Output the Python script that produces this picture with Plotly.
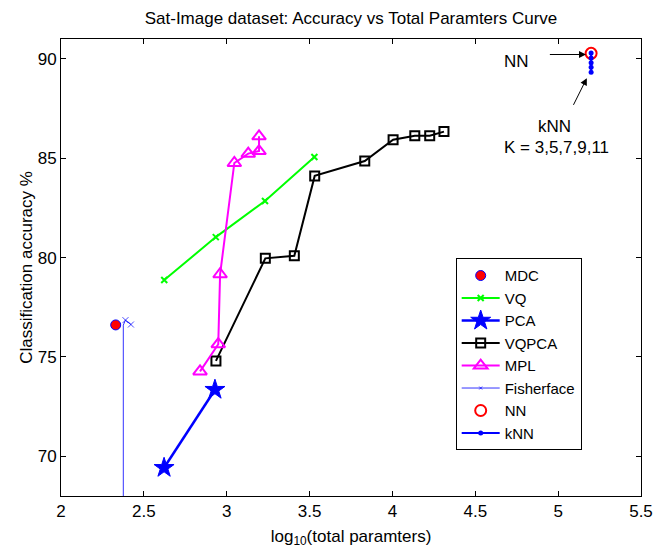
import plotly.graph_objects as go

# ---- data ----
mdc_x = [2.330]
mdc_y = [76.61]

vq_x = [2.623, 2.934, 3.231, 3.529]
vq_y = [78.87, 81.03, 82.85, 85.06]

pca_x = [2.622, 2.929]
pca_y = [69.42, 73.35]

vqpca_x = [2.935, 3.233, 3.408, 3.531, 3.833, 4.004, 4.135, 4.225, 4.311]
vqpca_y = [74.80, 79.96, 80.09, 84.11, 84.86, 85.93, 86.13, 86.13, 86.34]

mpl_x = [2.839, 2.949, 2.960, 3.046, 3.130, 3.195, 3.195]
mpl_y = [74.27, 75.64, 79.16, 84.76, 85.23, 85.36, 86.10]

fisher_x = [2.376, 2.376, 2.389, 2.422]
fisher_y = [20.0, 76.60, 76.85, 76.63]
fisher_msize = [0, 0, 6, 6]

nn_x = [5.199]
nn_y = [90.28]

knn_k = [3, 5, 7, 9, 11]
knn_x = [5.199, 5.199, 5.199, 5.199, 5.199]
knn_y = [90.30, 90.05, 89.80, 89.58, 89.33]

x_ticks = [2, 2.5, 3, 3.5, 4, 4.5, 5, 5.5]
y_ticks = [70, 75, 80, 85, 90]

FONT = "Liberation Sans, Arial, Helvetica, sans-serif"
FS = 17
LFS = 15

fig = go.Figure()

fig.add_trace(go.Scatter(x=mdc_x, y=mdc_y, mode="markers", name="MDC",
                         marker=dict(symbol="circle", size=10, color="#FF0000",
                                     line=dict(color="#0000FF", width=1))))
fig.add_trace(go.Scatter(x=vq_x, y=vq_y, mode="lines+markers", name="VQ",
                         line=dict(color="#00FF00", width=2),
                         marker=dict(symbol="x-thin", size=6,
                                     line=dict(color="#00FF00", width=2))))
fig.add_trace(go.Scatter(x=pca_x, y=pca_y, mode="lines+markers", name="PCA",
                         line=dict(color="#0000FF", width=2.5),
                         marker=dict(symbol="star", size=15, color="#0000FF",
                                     line=dict(color="#0000FF", width=1))))
fig.add_trace(go.Scatter(x=vqpca_x, y=vqpca_y, mode="lines+markers", name="VQPCA",
                         line=dict(color="#000000", width=2),
                         marker=dict(symbol="square-open", size=9, color="#000000",
                                     line=dict(color="#000000", width=2))))
fig.add_trace(go.Scatter(x=mpl_x, y=mpl_y, mode="lines+markers", name="MPL",
                         line=dict(color="#FF00FF", width=2),
                         marker=dict(symbol="triangle-up-open", size=12, color="#FF00FF",
                                     line=dict(color="#FF00FF", width=2))))
fig.add_trace(go.Scatter(x=fisher_x, y=fisher_y, mode="lines+markers", name="Fisherface",
                         line=dict(color="#3333FF", width=1),
                         marker=dict(symbol="x-thin-open", size=fisher_msize, color="#0000FF",
                                     line=dict(color="#0000FF", width=1))))
fig.add_trace(go.Scatter(x=nn_x, y=nn_y, mode="markers", name="NN",
                         marker=dict(symbol="circle-open", size=11, color="#FF0000",
                                     line=dict(color="#FF0000", width=2))))
fig.add_trace(go.Scatter(x=knn_x, y=knn_y, mode="lines+markers", name="kNN",
                         text=[f"K={k}" for k in knn_k],
                         line=dict(color="#0000FF", width=2),
                         marker=dict(symbol="circle", size=5, color="#0000FF")))

# arrows
fig.add_annotation(x=5.168, y=90.22, ax=4.941, ay=90.22, axref="x", ayref="y",
                   xref="x", yref="y", text="", showarrow=True,
                   arrowhead=2, arrowsize=1.4, arrowwidth=1, arrowcolor="black")
fig.add_annotation(x=5.173, y=89.03, ax=5.088, ay=87.61, axref="x", ayref="y",
                   xref="x", yref="y", text="", showarrow=True,
                   arrowhead=2, arrowsize=1.4, arrowwidth=1, arrowcolor="black")
# labels
fig.add_annotation(x=4.746, y=89.88, text="NN", showarrow=False,
                   font=dict(family=FONT, size=FS, color="black"))
fig.add_annotation(x=4.975, y=86.6, text="kNN", showarrow=False,
                   font=dict(family=FONT, size=FS, color="black"))
fig.add_annotation(x=4.993, y=85.55, text="K = 3,5,7,9,11", showarrow=False,
                   font=dict(family=FONT, size=FS, color="black"))

axis_common = dict(showgrid=False, zeroline=False, showline=True, linecolor="black",
                   linewidth=1, mirror="ticks", ticks="inside", ticklen=5,
                   automargin=False, ticklabeloverflow="allow",
                   tickcolor="black", tickfont=dict(family=FONT, size=FS, color="black"))

fig.update_layout(
    width=654, height=552,
    margin=dict(l=61, r=13, t=39, b=56, autoexpand=False),
    plot_bgcolor="white", paper_bgcolor="white",
    font=dict(family=FONT, size=FS, color="black"),
    title=dict(text="Sat-Image dataset: Accuracy vs Total Paramters Curve",
               x=351 / 654, xanchor="center", y=1 - 18 / 552, yanchor="middle",
               font=dict(family=FONT, size=FS, color="black")),
    xaxis=dict(range=[2, 5.5], tickvals=x_ticks, ticktext=[str(t) for t in x_ticks],
               title=dict(text="log<sub>10</sub>(total paramters)", standoff=9,
                          font=dict(family=FONT, size=FS)),
               **axis_common),
    yaxis=dict(range=[68, 91], tickvals=y_ticks, ticktext=[str(t) for t in y_ticks],
               title=dict(text="Classification accuracy %", standoff=0,
                          font=dict(family=FONT, size=FS)),
               **axis_common),
    legend=dict(x=0.6805, y=0.5202, xanchor="left", yanchor="top",
                bgcolor="white", bordercolor="black", borderwidth=1,
                font=dict(family=FONT, size=LFS, color="black"),
                itemwidth=38, tracegroupgap=0),
    showlegend=True,
)

fig.write_html("out.html", config={"displayModeBar": False},
               post_script="document.body.style.margin='0';document.body.style.overflow='hidden';")
